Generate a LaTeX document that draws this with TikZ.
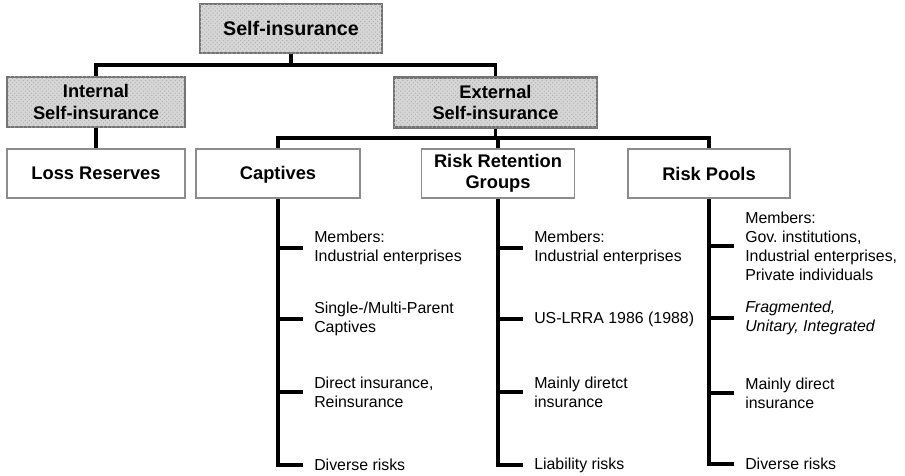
\documentclass[tikz,border=0pt]{standalone}
\usepackage{fontspec}
\setmainfont{Liberation Sans}
\usetikzlibrary{patterns}
\tikzset{
  grp/.style={draw=black!55,line width=1.6pt,fill=gray!32,
    postaction={pattern=crosshatch dots,pattern color=gray!60},
    align=center,inner sep=0pt,font=\bfseries\fontsize{13}{15}\selectfont},
  cat/.style={draw=black!45,line width=1.1pt,fill=white,align=center,
    inner sep=0pt,minimum height=1.225cm,font=\bfseries\fontsize{13}{15}\selectfont},
  item/.style={anchor=west,align=left,inner xsep=7.8pt,
    font=\fontsize{11.3}{13.6}\selectfont},
  conn/.style={line width=2.2pt}
}
\frenchspacing
\begin{document}
\begin{tikzpicture}[x=0.025cm,y=-0.025cm]
\useasboundingbox (0,0) rectangle (905,475);
\node[grp,minimum width=4.55cm,minimum height=1.225cm,font=\bfseries\fontsize{14}{16}\selectfont] (top) at (291,28.5) {Self-insurance};
\node[grp,minimum width=4.45cm,minimum height=1.25cm] (int) at (96,102) {Internal\\Self-insurance};
\node[grp,minimum width=5.075cm,minimum height=1.25cm] (ext) at (495.5,102.5) {External\\Self-insurance};

\node[cat,minimum width=4.45cm] (loss) at (96,173.5) {Loss Reserves};
\node[cat,minimum width=4.1cm] (capt) at (278,173.5) {\vphantom{L}\smash{Captives}};
\node[cat,minimum width=3.825cm] (rrg) at (498,173.5) {Risk Retention\\Groups};
\node[cat,minimum width=4.05cm] (pool) at (709,173.5) {Risk Pools};

\coordinate (b1) at (291,65);
\coordinate (b2) at (495.5,138);
\draw[conn] (top.south) -- (b1) -| (int.north);
\draw[conn] (b1) -| (ext.north);
\draw[conn] (int.south) -- (loss.north);
\draw[conn] (ext.south) -- (b2) -| (capt.north);
\draw[conn] (b2) -| (pool.north);
\draw[conn] (b2) -| (rrg.north);

% captives
\node[item] (c1) at (303,248) {Members:\\Industrial enterprises};
\node[item] (c2) at (303,319) {Single-/Multi-Parent\\Captives};
\node[item] (c3) at (303,392) {Direct insurance,\\Reinsurance};
\node[item] (c4) at (303,465) {Diverse risks};
% risk retention groups
\node[item] (r1) at (523,248) {Members:\\Industrial enterprises};
\node[item] (r2) at (523,319) {US-LRRA 1986 (1988)};
\node[item] (r3) at (523,392) {Mainly diretct\\insurance};
\node[item] (r4) at (523,465) {Liability risks};
% risk pools
\node[item] (p1) at (734,246) {Members:\\Gov. institutions,\\Industrial enterprises,\\Private individuals};
\node[item] (p2) at (734,318) {\itshape Fragmented,\\\itshape Unitary, Integrated};
\node[item] (p3) at (734,393) {Mainly direct\\insurance};
\node[item] (p4) at (734,464) {Diverse risks};

\draw[conn] (capt.south) |- (c4.west);
\draw[conn] (rrg.south) |- (r4.west);
\draw[conn] (pool.south) |- (p4.west);
\foreach \i in {1,2,3}{
  \draw[conn] (capt.south |- c\i.west) -- (c\i.west);
  \draw[conn] (rrg.south |- r\i.west) -- (r\i.west);
  \draw[conn] (pool.south |- p\i.west) -- (p\i.west);
}
\end{tikzpicture}
\end{document}
